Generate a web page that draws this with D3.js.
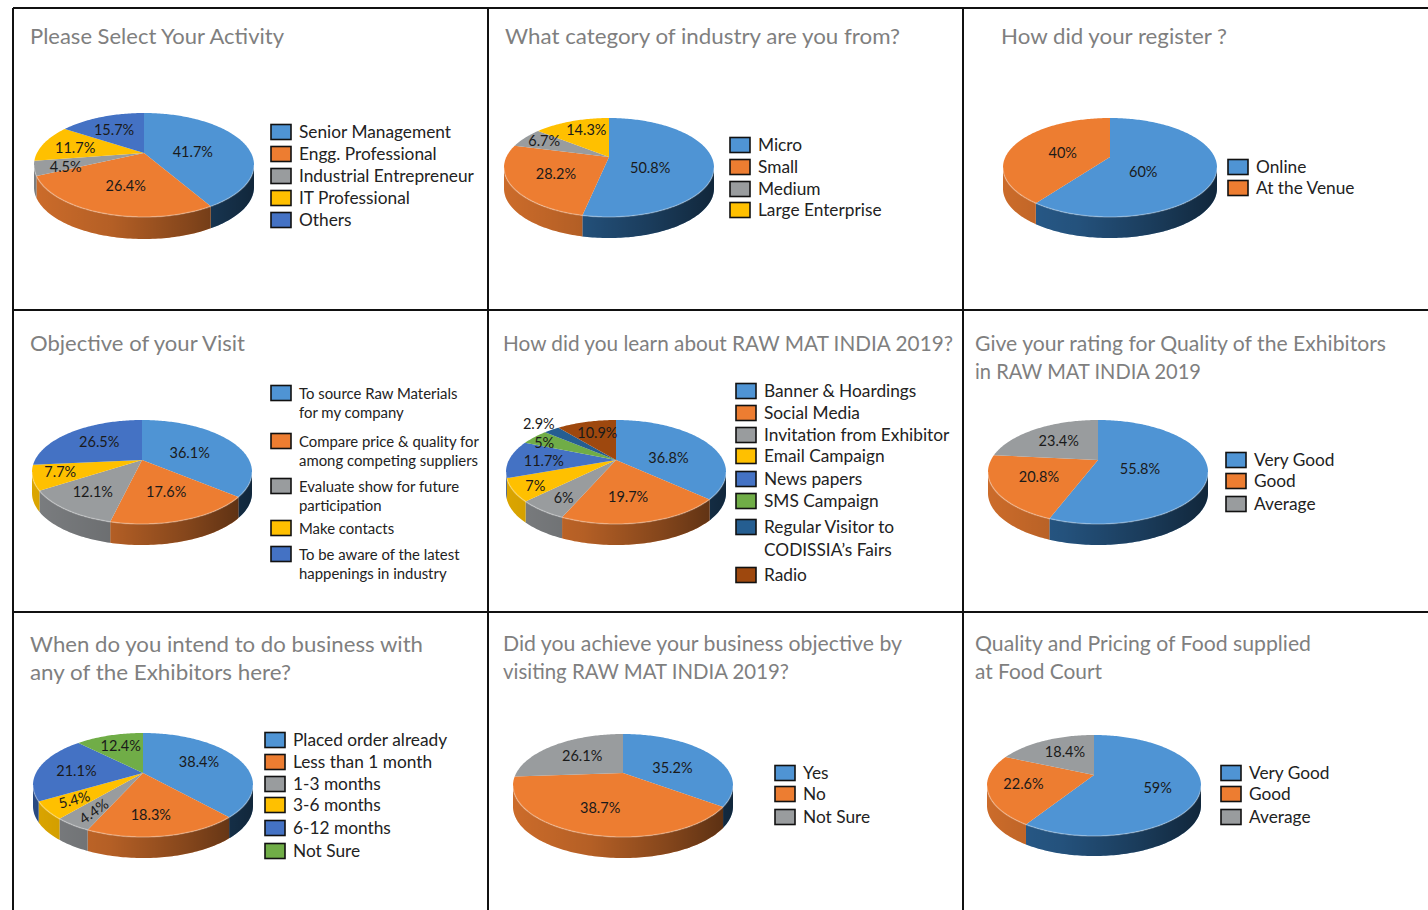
<!DOCTYPE html>
<html>
<head>
<meta charset="utf-8">
<script src="https://cdn.jsdelivr.net/npm/d3@7"></script>
<style>
  html, body { margin: 0; background: #fff; }
  svg { display: block; font-family: Lato, "Open Sans", sans-serif; }
</style>
</head>
<body>
<svg id="chart" width="1428" height="910"></svg>
<script>
const palette = ['#4f94d4', '#ed7d31', '#999c9e', '#ffc000', '#4472c4', '#70ad47', '#255e91', '#9e480e'];
const wallPalette = ['#2f6ba3', '#ed7d31', '#8f9295', '#ffc000', '#2f5597', '#70ad47', '#255e91', '#9e480e'];

const activityLabels = ['Senior Management', 'Engg. Professional', 'Industrial Entrepreneur', 'IT Professional', 'Others'];
const activityValues = [41.7, 26.4, 4.5, 11.7, 15.7];

const industryLabels = ['Micro', 'Small', 'Medium', 'Large Enterprise'];
const industryValues = [50.8, 28.2, 6.7, 14.3];
// the slices in the picture do not quite follow their printed percentages
const industryDrawn = [53.3, 25.7, 6.7, 14.3];

const registerLabels = ['Online', 'At the Venue'];
const registerValues = [60, 40];

const objectiveLabels = [
  ['To source Raw Materials', 'for my company'],
  ['Compare price & quality for', 'among competing suppliers'],
  ['Evaluate show for future', 'participation'],
  ['Make contacts'],
  ['To be aware of the latest', 'happenings in industry']
];
const objectiveValues = [36.1, 17.6, 12.1, 7.7, 26.5];

const learnLabels = ['Banner & Hoardings', 'Social Media', 'Invitation from Exhibitor', 'Email Campaign', 'News papers', 'SMS Campaign',
  ['Regular Visitor to', 'CODISSIA\u2019s Fairs'], 'Radio'];
const learnValues = [36.8, 19.7, 6, 7, 11.7, 5, 2.9, 10.9];

const ratingLabels = ['Very Good', 'Good', 'Average'];
const exhibitorValues = [55.8, 20.8, 23.4];

const businessLabels = ['Placed order already', 'Less than 1 month', '1-3 months', '3-6 months', '6-12 months', 'Not Sure'];
const businessValues = [38.4, 18.3, 4.4, 5.4, 21.1, 12.4];

const achieveLabels = ['Yes', 'No', 'Not Sure'];
const achieveValues = [35.2, 38.7, 26.1];

const foodValues = [59, 22.6, 18.4];

// layout of each panel: title widths, pie box, legend rows, label nudges
const panels = [
  { title: ['Please Select Your Activity'], tw: [254], tx: 30, ty: 44, labels: activityLabels, values: activityValues,
    cx: 144, hub: 153, top: 113, bot: 217, halfW: 110, depth: 22,
    lx: 271, ly: [132, 154, 176, 198, 220],
    nudge: [[-13, 7], [5, -1], [-12, 5], [-6, 1], [-2, 1]] },
  { title: ['What category of industry are you from?'], tw: [395], tx: 505, ty: 44, labels: industryLabels, values: industryValues, drawn: industryDrawn,
    cx: 609, hub: 157, top: 118, bot: 217, halfW: 105, depth: 21,
    lx: 730, ly: [145, 167, 189, 210],
    nudge: [[-23, 8], [5, 0], [-11, -4], [2, -3]] },
  { title: ['How did your register ?'], tw: [226], tx: 1001, ty: 44, labels: registerLabels, values: registerValues,
    cx: 1110, hub: 157, top: 118, bot: 217, halfW: 107, depth: 21,
    lx: 1228, ly: [167, 188],
    nudge: [[-31, 6], [12, 5]] },
  { title: ['Objective of your Visit'], tw: [215], tx: 30, ty: 351, labels: objectiveLabels, values: objectiveValues,
    cx: 142, hub: 460, top: 420, bot: 524, halfW: 110, depth: 21, small: true,
    lx: 271, ly: [393, 441, 486, 528, 554],
    nudge: [[-9, 5], [0, -2], [-6, 4], [-16, 1], [2, 1]] },
  { title: ['How did you learn about RAW MAT INDIA 2019?'], tw: [450], tx: 503, ty: 351, labels: learnLabels, values: learnValues,
    cx: 616, hub: 460, top: 420, bot: 524, halfW: 110, depth: 21,
    lx: 736, ly: [391, 413, 435, 456, 479, 501, 527, 575],
    nudge: [[-5, 10], [-4, 2], [-10, 9], [-20, 8], [-6, 2], [-19, -2], [-35, -16], [1, -2]] },
  { title: ['Give your rating for Quality of the Exhibitors', 'in RAW MAT INDIA 2019'], tw: [411, 226], tx: 975, ty: 351, labels: ratingLabels, values: exhibitorValues,
    cx: 1098, hub: 460, top: 420, bot: 524, halfW: 110, depth: 21,
    lx: 1226, ly: [460, 481, 504],
    nudge: [[-25, 3], [2, 0], [1, 1]] },
  { title: ['When do you intend to do business with', 'any of the Exhibitors here?'], tw: [393, 261], tx: 30, ty: 652, labels: businessLabels, values: businessValues,
    cx: 143, hub: 773, top: 733, bot: 837, halfW: 110, depth: 21,
    lx: 265, ly: [740, 762, 784, 805, 828, 851],
    nudge: [[-3, -1], [-4, 7], [-9, 9], [-13, 5], [-2, 2], [0, -2]],
    tilt: [0, 0, -35, -15, 0, 0] },
  { title: ['Did you achieve your business objective by', 'visiting RAW MAT INDIA 2019?'], tw: [399, 286], tx: 503, ty: 651, labels: achieveLabels, values: achieveValues,
    cx: 623, hub: 773, top: 734, bot: 837, halfW: 110, depth: 21,
    lx: 775, ly: [773, 794, 817],
    nudge: [[-6, 8], [-1, 1], [3, 2]] },
  { title: ['Quality and Pricing of Food supplied', 'at Food Court'], tw: [336, 127], tx: 975, ty: 651, labels: ratingLabels, values: foodValues,
    cx: 1094, hub: 775, top: 735, bot: 836, halfW: 107, depth: 20,
    lx: 1221, ly: [773, 794, 817],
    nudge: [[-1, 4], [-6, 0], [3, 0]] }
];

const svg = d3.select('#chart');
const defs = svg.append('defs');
const pieGen = d3.pie().sort(null).value(d => d);
const lineGen = d3.line();
const TAU = Math.PI * 2;

// panel grid
const grid = svg.append('g').attr('stroke', '#111').attr('stroke-width', 2);
[13, 488, 963].forEach(x => grid.append('line').attr('x1', x).attr('x2', x).attr('y1', 8).attr('y2', 910));
[8, 310, 612].forEach(y => grid.append('line').attr('x1', 13).attr('x2', 1428).attr('y1', y).attr('y2', y));

panels.forEach((p, idx) => {
  const g = svg.append('g');

  // title, squeezed to the width it has in the picture
  p.title.forEach((t, i) => {
    g.append('text').attr('x', p.tx).attr('y', p.ty + i * 28)
      .attr('font-size', 22).attr('fill', '#7f7f7f')
      .attr('textLength', p.tw[i]).attr('lengthAdjust', 'spacingAndGlyphs').text(t);
  });

  // tilted disc: circle seen in perspective, hub sits above the ellipse centre
  const up = p.hub - p.top, down = p.bot - p.hub;
  const k = (down - up) / (down + up);
  const ry = up * (1 + k);
  const rx = p.halfW * Math.sqrt(1 - k * k);
  const project = (a, r) => {
    const u = r * Math.sin(a), v = r * Math.cos(a), w = 1 + k * v;
    return [p.cx + rx * u / w, p.hub - ry * v / w];
  };
  const rimPoints = (a0, a1) => {
    const n = Math.max(2, Math.ceil((a1 - a0) / 0.02));
    return d3.range(n + 1).map(i => project(a0 + (a1 - a0) * i / n, 1));
  };

  const arcs = pieGen(p.drawn || p.values);
  const edge = Math.acos(-k);

  const shadeId = 'shade' + idx;
  const shade = defs.append('linearGradient').attr('id', shadeId)
    .attr('gradientUnits', 'userSpaceOnUse')
    .attr('x1', p.cx - p.halfW).attr('x2', p.cx + p.halfW).attr('y1', 0).attr('y2', 0);
  [[0, 0.14], [0.35, 0.24], [0.7, 0.44], [1, 0.64]].forEach(s => {
    shade.append('stop').attr('offset', s[0]).attr('stop-color', '#000').attr('stop-opacity', s[1]);
  });

  // wall
  arcs.forEach((d, i) => {
    const a0 = Math.max(d.startAngle, edge), a1 = Math.min(d.endAngle, TAU - edge);
    if (a1 <= a0) return;
    const rim = rimPoints(a0, a1);
    const low = rim.map(q => [q[0], q[1] + p.depth]).reverse();
    const path = lineGen(rim.concat(low)) + 'Z';
    g.append('path').attr('d', path).attr('fill', wallPalette[i]);
    g.append('path').attr('d', path).attr('fill', `url(#${shadeId})`);
  });

  // top
  arcs.forEach((d, i) => {
    const pts = [[p.cx, p.hub]].concat(rimPoints(d.startAngle, d.endAngle));
    g.append('path').attr('d', lineGen(pts) + 'Z').attr('fill', palette[i]);
  });

  // soft bevel along the front edge
  g.append('path').attr('d', lineGen(rimPoints(edge, TAU - edge)))
    .attr('fill', 'none').attr('stroke', '#fff').attr('stroke-opacity', 0.28).attr('stroke-width', 1.5);

  // value labels
  arcs.forEach((d, i) => {
    const mid = (d.startAngle + d.endAngle) / 2;
    const q = project(mid, 0.62);
    const x = q[0] + p.nudge[i][0], y = q[1] + p.nudge[i][1];
    const tilt = p.tilt ? p.tilt[i] : 0;
    g.append('text').attr('x', x).attr('y', y + 5)
      .attr('transform', tilt ? `rotate(${tilt} ${x} ${y})` : null)
      .attr('text-anchor', 'middle').attr('font-size', 14.5).attr('fill', '#1a1a1a')
      .text(p.values[i] + '%');
  });

  // legend
  const fs = p.small ? 14.9 : 17.3;
  const lh = p.small ? 19.5 : 23;
  p.labels.forEach((lab, i) => {
    const y = p.ly[i];
    g.append('rect').attr('x', p.lx).attr('y', y - 7.5).attr('width', 20).attr('height', 15)
      .attr('fill', palette[i]).attr('stroke', '#111').attr('stroke-width', 1.6);
    [].concat(lab).forEach((t, j) => {
      g.append('text').attr('x', p.lx + 28).attr('y', y + 5.5 + j * lh)
        .attr('font-size', fs).attr('fill', '#222').text(t);
    });
  });
});
</script>
</body>
</html>
